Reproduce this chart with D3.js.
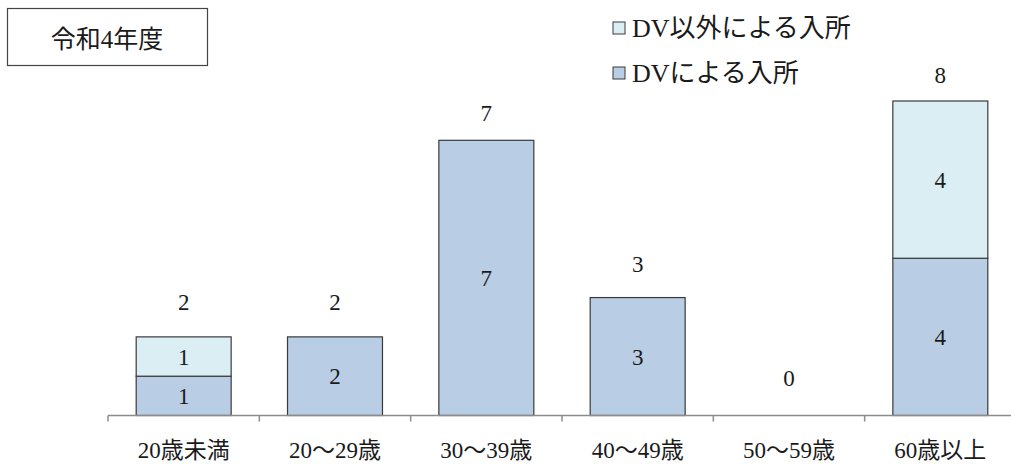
<!DOCTYPE html>
<html lang="ja">
<head>
<meta charset="utf-8">
<script src="https://cdn.jsdelivr.net/npm/d3@7"></script>
<style>
  body { margin: 0; background: #fff; }
</style>
</head>
<body>
<svg id="chart" width="1011" height="464"></svg>
<script>
/* ---------- data ---------- */
const categories = ["20歳未満", "20～29歳", "30～39歳", "40～49歳", "50～59歳", "60歳以上"];
const dvValues    = [1, 2, 7, 3, 0, 4];   // DVによる入所
const otherValues = [1, 0, 0, 0, 0, 4];   // DV以外による入所
const seriesNames = ["DVによる入所", "DV以外による入所"];
const seriesColors = ["#b9cde5", "#dbeef4"];
const yMax = 8;
const title = "令和4年度";

const totals = categories.map((c, i) => dvValues[i] + otherValues[i]);

const FONT = "'Liberation Serif', 'Noto Sans CJK JP', serif";

/* ---------- layout ---------- */
const svg = d3.select("#chart")
  .attr("font-family", FONT)
  .style("font-family", FONT);
const axisLeft = 108, axisRight = 1016, baseY = 415.5, topY = 101;

const x = d3.scaleBand()
  .domain(categories)
  .range([axisLeft, axisRight])
  .paddingInner(0.3725)
  .paddingOuter(0.18625);

const y = d3.scaleLinear().domain([0, yMax]).range([baseY, topY]);
// total labels sit on their own (secondary) scale, as in the source chart
const yLabel = d3.scaleLinear().domain([0, yMax]).range([378, 75]);

/* ---------- stacked bars ---------- */
const rows = categories.map((c, i) => ({ cat: c, dv: dvValues[i], other: otherValues[i] }));
const stack = d3.stack().keys(["dv", "other"]);
const layers = stack(rows);

const gBars = svg.append("g");
layers.forEach((layer, li) => {
  const segs = layer.filter(d => d[1] - d[0] > 0);
  gBars.selectAll(null)
    .data(segs)
    .enter().append("rect")
    .attr("x", d => x(d.data.cat))
    .attr("width", x.bandwidth())
    .attr("y", d => y(d[1]))
    .attr("height", d => y(d[0]) - y(d[1]))
    .attr("fill", seriesColors[li])
    .attr("stroke", "#3a3a3a")
    .attr("stroke-width", 1.2);

  gBars.selectAll(null)
    .data(segs)
    .enter().append("text")
    .attr("x", d => x(d.data.cat) + x.bandwidth() / 2)
    .attr("y", d => (y(d[0]) + y(d[1])) / 2)
    .attr("dy", "0.35em")
    .attr("text-anchor", "middle")
    .attr("font-size", 23)
    .attr("fill", "#1a1a1a")
    .text(d => d[1] - d[0]);
});

/* ---------- totals ---------- */
svg.append("g").selectAll("text")
  .data(totals)
  .enter().append("text")
  .attr("x", (d, i) => x(categories[i]) + x.bandwidth() / 2)
  .attr("y", d => yLabel(d))
  .attr("dy", "0.35em")
  .attr("text-anchor", "middle")
  .attr("font-size", 23)
  .attr("fill", "#1a1a1a")
  .text(d => d);

/* ---------- category axis ---------- */
const gAxis = svg.append("g");
gAxis.append("line")
  .attr("x1", axisLeft).attr("x2", 1011)
  .attr("y1", baseY).attr("y2", baseY)
  .attr("stroke", "#8c8c8c").attr("stroke-width", 1.5);

const boundaries = d3.range(categories.length + 1).map(i => axisLeft + i * x.step());
gAxis.selectAll(".tick")
  .data(boundaries)
  .enter().append("line")
  .attr("x1", d => d).attr("x2", d => d)
  .attr("y1", baseY).attr("y2", baseY + 6)
  .attr("stroke", "#8c8c8c").attr("stroke-width", 1.5);

gAxis.selectAll(".cat")
  .data(categories)
  .enter().append("text")
  .attr("x", d => x(d) + x.bandwidth() / 2)
  .attr("y", 450)
  .attr("dy", "0.35em")
  .attr("text-anchor", "middle")
  .attr("font-size", 23)
  .attr("fill", "#1a1a1a")
  .text(d => d);

/* ---------- legend ---------- */
const legendOrder = [1, 0];
const gLegend = svg.append("g");
legendOrder.forEach((si, k) => {
  const cy = 28 + k * 45;
  gLegend.append("rect")
    .attr("x", 613).attr("y", cy - 6)
    .attr("width", 12).attr("height", 12)
    .attr("fill", seriesColors[si])
    .attr("stroke", "#3a3a3a").attr("stroke-width", 1);
  gLegend.append("text")
    .attr("x", 632).attr("y", cy)
    .attr("dy", "0.35em")
    .attr("font-size", 26)
    .attr("fill", "#1a1a1a")
    .text(seriesNames[si]);
});

/* ---------- title box ---------- */
svg.append("rect")
  .attr("x", 7.5).attr("y", 8.5)
  .attr("width", 200).attr("height", 57)
  .attr("fill", "#fff")
  .attr("stroke", "#444").attr("stroke-width", 1.2);
svg.append("text")
  .attr("x", 107).attr("y", 39)
  .attr("dy", "0.35em")
  .attr("text-anchor", "middle")
  .attr("font-size", 25)
  .attr("fill", "#1a1a1a")
  .text(title);
</script>
</body>
</html>
